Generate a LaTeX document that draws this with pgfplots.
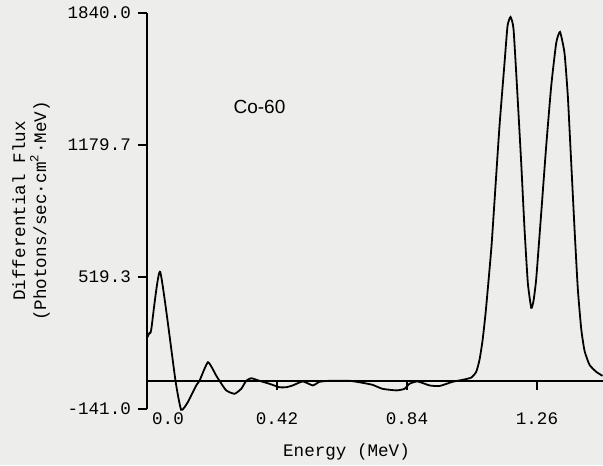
\documentclass[border=0pt]{standalone}
\usepackage{pgfplots}
\pgfplotsset{compat=1.18}
\usepackage{fontspec}
\setmainfont{Liberation Mono}
\newfontfamily\sansfont{Liberation Sans}
\definecolor{bgcol}{RGB}{237,238,236}
\newcommand{\tf}{\fontsize{8.8pt}{10.5pt}\selectfont}
\begin{document}
\begin{tikzpicture}
\fill[bgcol] (-73.5pt,-28pt) rectangle (228pt,204.5pt);
\begin{axis}[
 scale only axis, width=228pt, height=198pt,
 at={(0,0)}, anchor=south west,
 xmin=0, xmax=1.4733, ymin=-141, ymax=1840,
 axis y line*=left, axis x line*=middle,
 hide obscured x ticks=false,
 ytick={-141,519.3,1179.7,1840}, yticklabels={-141.0,519.3,1179.7,1840.0},
 xtick={0,0.42,0.84,1.26}, xticklabels={{\hspace*{21pt}0.0},0.42,0.84,1.26},
 tick align=outside, major tick length=4.5pt,
 every tick/.style={black, line width=0.9pt},
 axis line style={line width=0.9pt},
 tick label style={font=\tf},
 xticklabel style={yshift=-8pt},
 every axis x label/.style={at={(axis description cs:0.4375,0)},anchor=center,yshift=-21.5pt,font=\tf},
 every axis y label/.style={at={(axis description cs:-0.2544,0.5)},rotate=90,anchor=center,font=\tf,align=center},
 xlabel={Energy (MeV)},
 ylabel={Differential Flux\\(Photons/sec·cm\textsuperscript{2}·MeV)},
 clip=false,
]
\addplot[black, line width=0.9pt, smooth, tension=0.3] coordinates {
(0.000,215) (0.008,240) (0.0136,255) (0.0426,545) (0.0921,0) (0.1105,-145) (0.1318,-107) (0.159,-23) (0.1696,0) (0.197,93) (0.2236,26) (0.2342,0) (0.2559,-48) (0.2827,-65) (0.3044,-40) (0.3205,0) (0.3367,13) (0.3635,0) (0.3958,-15) (0.4281,-32) (0.4498,-32) (0.4711,-23) (0.5034,-3) (0.5357,-23) (0.5574,-5) (0.5897,0) (0.6543,0) (0.6963,-10) (0.7286,-20) (0.7609,-40) (0.8061,-48) (0.832,-40) (0.848,-15) (0.874,-3) (0.9128,-23) (0.945,-26) (0.987,-5) (1.020,5) (1.0475,16) (1.0637,45) (1.0743,105) (1.0840,200) (1.0937,335) (1.1034,500) (1.1131,675) (1.1228,900) (1.1389,1275) (1.1551,1590) (1.1648,1775) (1.1745,1820) (1.1842,1760) (1.1971,1425) (1.2090,1090) (1.2197,760) (1.2304,490) (1.2414,365) (1.2488,400) (1.2575,510) (1.2737,840) (1.2898,1175) (1.3060,1475) (1.3221,1690) (1.3344,1745) (1.3489,1640) (1.3596,1425) (1.3706,1090) (1.3813,760) (1.3919,460) (1.4029,260) (1.4136,150) (1.4297,80) (1.4514,45) (1.4717,25)
};
\node[font=\sansfont\fontsize{9.5pt}{11pt}\selectfont] at (axis cs:0.3635,1370) {Co-60};
\end{axis}
\pgfresetboundingbox
\path (-73.5pt,-28pt) rectangle (228pt,204.5pt);
\end{tikzpicture}
\end{document}
